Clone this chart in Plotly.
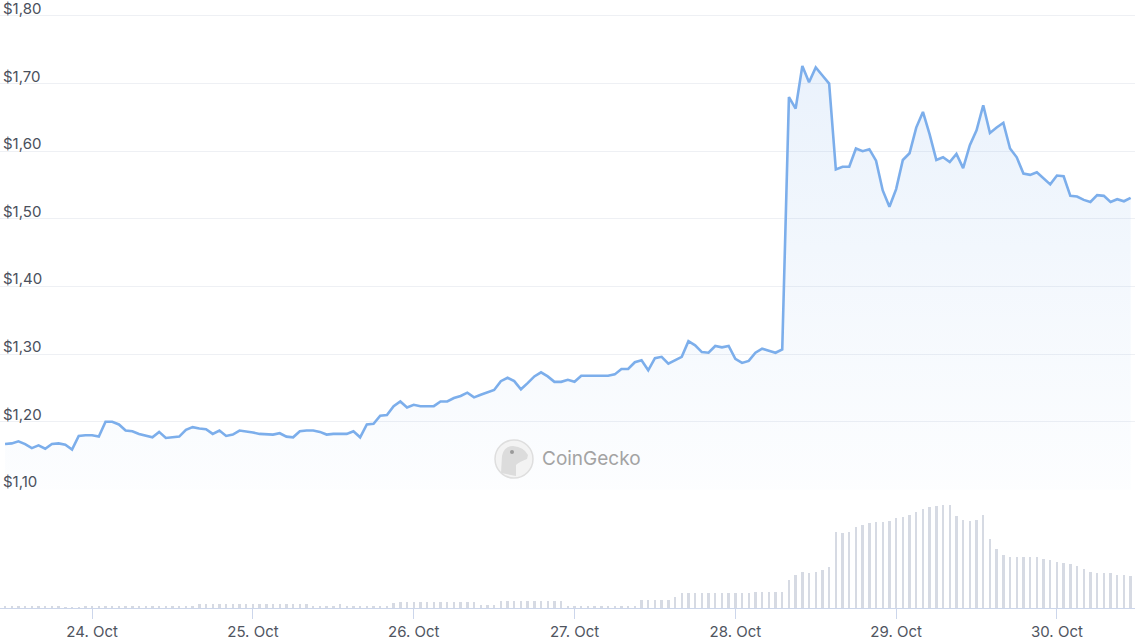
import pandas as pd
import plotly.graph_objects as go

# ---- data -------------------------------------------------------------
start_time = "2023-10-23 11:00"
price = [
    1.167, 1.168, 1.171, 1.167, 1.161, 1.165, 1.160, 1.167, 1.168, 1.166,
    1.159, 1.179, 1.180, 1.180, 1.178, 1.200, 1.200, 1.196, 1.187, 1.186,
    1.182, 1.179, 1.177, 1.185, 1.176, 1.177, 1.178, 1.188, 1.192, 1.190,
    1.189, 1.182, 1.187, 1.179, 1.181, 1.187, 1.186, 1.184, 1.182, 1.182,
    1.181, 1.183, 1.178, 1.177, 1.186, 1.187, 1.187, 1.185, 1.181, 1.182,
    1.182, 1.182, 1.186, 1.177, 1.196, 1.197, 1.209,
    1.210, 1.223, 1.230, 1.221, 1.225, 1.223, 1.223, 1.223, 1.230, 1.230,
    1.235, 1.238, 1.243, 1.236, 1.240, 1.243, 1.247, 1.260, 1.265, 1.260,
    1.248, 1.257, 1.267, 1.273, 1.267, 1.259, 1.259, 1.262, 1.259, 1.268,
    1.268, 1.267, 1.267, 1.268, 1.270, 1.278, 1.278, 1.288, 1.291, 1.276,
    1.294, 1.296, 1.286, 1.291, 1.296, 1.319, 1.313, 1.303, 1.302, 1.312,
    1.310, 1.312, 1.293, 1.287, 1.290, 1.302, 1.308, 1.305, 1.302, 1.307,
    1.680, 1.663, 1.726, 1.702, 1.724, 1.712, 1.700, 1.573, 1.577, 1.577,
    1.604, 1.600, 1.603, 1.586, 1.542, 1.518, 1.544, 1.587, 1.597, 1.635,
    1.658, 1.625, 1.587, 1.591, 1.584, 1.596, 1.575, 1.609, 1.631, 1.668,
    1.627, 1.635, 1.642, 1.604, 1.591, 1.567, 1.565, 1.569, 1.560, 1.551,
    1.564, 1.563, 1.534, 1.533, 1.528, 1.525, 1.535, 1.534, 1.525, 1.529,
    1.526, 1.531,
]
volume = [
    0.6, 0.6, 0.6, 0.6, 0.6, 0.6, 0.6, 0.6, 0.6, 0.4,
    0.4, 0.4, 0.6, 0.6, 0.6, 0.6, 0.6, 0.6, 0.6, 0.6,
    0.6, 0.6, 0.6, 0.6, 0.6, 0.6, 0.6, 0.6, 0.6, 1.3,
    1.3, 1.3, 1.3, 1.3, 1.3, 1.3, 1.3, 1.3, 1.3, 1.3,
    1.3, 1.3, 1.3, 1.3, 1.3, 1.3, 0.8, 0.8, 0.8, 0.8,
    1.2, 0.8, 0.8, 0.8, 0.8, 0.8, 0.8, 0.8, 1.6, 1.8,
    1.9, 2.0, 2.0, 2.0, 2.0, 2.0, 2.0, 2.0, 2.0, 2.0,
    2.0, 1.1, 1.1, 1.1, 2.1, 2.1, 2.1, 2.1, 2.1, 2.1,
    2.1, 2.1, 2.1, 2.1, 0.8, 0.8, 0.8, 0.8, 0.8, 0.8,
    0.8, 0.8, 0.8, 0.8, 0.8, 2.5, 2.5, 2.5, 2.5, 2.5,
    3.3, 4.6, 4.6, 4.6, 4.6, 4.6, 4.6, 4.6, 4.6, 4.6,
    4.6, 4.6, 5.0, 5.0, 5.0, 5.0, 5.0,
    8.5, 10.0, 11.0, 10.6, 11.0, 11.5, 12.3, 23.0, 22.6, 23.0,
    24.3, 25.1, 25.5, 25.9, 25.9, 26.3, 27.1, 27.5, 28.1, 29.0,
    29.8, 30.3, 30.8, 31.1, 31.1, 27.8, 26.5, 26.1, 26.5, 28.1,
    20.8, 17.8, 16.1, 15.5, 15.3, 15.3, 15.3, 15.3, 14.8, 14.5,
    14.0, 13.6, 13.3, 12.6, 11.8, 11.0, 10.6, 10.6, 10.6, 10.1,
    10.1, 9.8,
]
price_ticks = [1.10, 1.20, 1.30, 1.40, 1.50, 1.60, 1.70, 1.80]
price_labels = ["$1,10", "$1,20", "$1,30", "$1,40", "$1,50", "$1,60",
                "$1,70", "$1,80"]
times = pd.date_range(start_time, periods=len(price), freq="h")

# ---- styling ----------------------------------------------------------
W, H = 1135, 640
B = 32
PH = H - B  # plot height in px
LINE = "rgb(124,174,235)"
BAR = "#d6dae3"
AXIS = "#ccd6eb"
GRID = "#eef0f4"
TXT = "#4a505c"
FONT = "Inter, Roboto, sans-serif"
split = (PH - 489.7) / PH


def px(x):
    return x / W


def py(y):
    return (PH - y) / PH


fig = go.Figure()
fig.add_trace(go.Bar(
    x=times, y=volume, yaxis="y2", marker_color=BAR, marker_line_width=0,
    width=0.36 * 3600 * 1000, hoverinfo="skip", showlegend=False,
))
fig.add_trace(go.Scatter(
    x=times, y=price, mode="lines", line=dict(color=LINE, width=2.6),
    fill="tozeroy",
    fillgradient=dict(type="vertical", start=1.10, stop=1.73,
                      colorscale=[[0, "rgba(124,174,235,0.02)"],
                                  [1, "rgba(124,174,235,0.16)"]]),
    hoverinfo="skip", showlegend=False,
))

annotations = [
    dict(text=lab, xref="paper", yref="y", x=0, y=val, xanchor="left",
         yanchor="middle", xshift=2, yshift=7.5, borderpad=0,
         showarrow=False, font=dict(family=FONT, size=15, color=TXT))
    for val, lab in zip(price_ticks, price_labels)
]
annotations.append(dict(
    text="CoinGecko", xref="paper", yref="paper",
    x=px(540), y=py(458), xanchor="left", yanchor="middle",
    showarrow=False, font=dict(family=FONT, size=19, color="#a3a3a3")))

fig.update_layout(
    width=W, height=H,
    margin=dict(l=0, r=0, t=0, b=B),
    paper_bgcolor="white", plot_bgcolor="white",
    bargap=0,
    font=dict(family=FONT, size=15, color=TXT),
    xaxis=dict(
        type="date", anchor="y2",
        range=["2023-10-23 10:15", "2023-10-30 11:39"],
        tick0="2023-10-24", dtick=86400000, tickformat="%d. %b",
        ticks="outside", ticklen=10, tickcolor=AXIS, tickwidth=1,
        showline=True, linecolor=AXIS, linewidth=1,
        showgrid=False, zeroline=False,
        tickfont=dict(size=15, color="#50555f"),
    ),
    yaxis=dict(
        domain=[split, 1], range=[1.0995, 1.8236],
        tickvals=price_ticks, showticklabels=False, showgrid=True,
        gridcolor=GRID, gridwidth=1, zeroline=False, showline=False,
        ticks="",
    ),
    yaxis2=dict(
        domain=[0, split], range=[0, 35.5], visible=False,
    ),
    shapes=[
        dict(type="circle", xref="paper", yref="paper",
             x0=px(495), x1=px(533), y0=py(478), y1=py(440),
             fillcolor="#f3f3f3", line=dict(color="#dedede", width=1.5),
             layer="above"),
        dict(type="path", xref="paper", yref="paper",
             path=("M {} {} L {} {} Q {} {} {} {} Q {} {} {} {} L {} {} "
                   "Q {} {} {} {} L {} {} Z").format(
                 px(501), py(473), px(502), py(456),
                 px(504), py(446), px(513), py(446),
                 px(524), py(447), px(528), py(455),
                 px(527), py(459),
                 px(519), py(462), px(516), py(465),
                 px(516), py(476)),
             fillcolor="#dcdcdc", line=dict(width=0), layer="above"),
        dict(type="circle", xref="paper", yref="paper",
             x0=px(510), x1=px(514), y0=py(454), y1=py(450),
             fillcolor="#9a9a9a", line=dict(width=0), layer="above"),
    ],
    annotations=annotations,
)

fig.write_html("out.html", config={"displayModeBar": False},
               post_script="document.body.style.margin='0px';")
